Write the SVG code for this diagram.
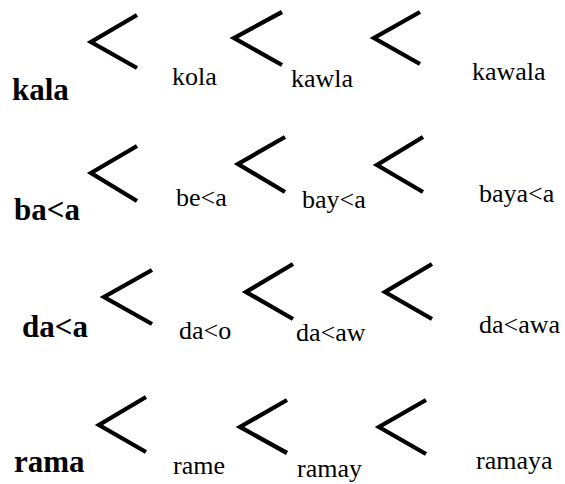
<svg xmlns="http://www.w3.org/2000/svg" width="565" height="484" viewBox="0 0 565 484">
<style>
text{font-family:'Liberation Serif','Times New Roman',Tinos,'DejaVu Serif',serif;fill:#000}
.w{font-size:26px}
.b{font-size:31px;font-weight:bold}
.c{fill:none;stroke:#000;stroke-width:4.3;stroke-linecap:butt;stroke-linejoin:miter}
</style>
<rect width="565" height="484" fill="#fff"/>
<g id="row1" font-family="Liberation Serif, serif">
<text class="b" x="12" y="100">kala</text>
<text class="w" x="172" y="85">kola</text>
<text class="w" x="291" y="87">kawla</text>
<text class="w" x="472" y="80">kawala</text>
</g>
<g id="row2" font-family="Liberation Serif, serif">
<text class="b" x="14" y="220">ba&lt;a</text>
<text class="w" x="176" y="206">be&lt;a</text>
<text class="w" x="302" y="208">bay&lt;a</text>
<text class="w" x="479" y="202">baya&lt;a</text>
</g>
<g id="row3" font-family="Liberation Serif, serif">
<text class="b" x="22" y="337">da&lt;a</text>
<text class="w" x="179" y="339">da&lt;o</text>
<text class="w" x="296" y="341">da&lt;aw</text>
<text class="w" x="479" y="333">da&lt;awa</text>
</g>
<g id="row4" font-family="Liberation Serif, serif">
<text class="b" x="14" y="472">rama</text>
<text class="w" x="173" y="474">rame</text>
<text class="w" x="297" y="477">ramay</text>
<text class="w" x="476" y="469">ramaya</text>
</g>
<g id="connectors">
<polyline class="c" points="137,15 91,42 137,68"/>
<polyline class="c" points="282,12 234,38 282,65"/>
<polyline class="c" points="420,12 374,38 420,64"/>
<polyline class="c" points="137,146 91,173 137,201"/>
<polyline class="c" points="285,137 238,164 285,192"/>
<polyline class="c" points="423,137 377,165 423,192"/>
<polyline class="c" points="152,270 104,297 152,324"/>
<polyline class="c" points="293,264 246,292 293,319"/>
<polyline class="c" points="432,264 385,292 432,319"/>
<polyline class="c" points="146,397 99,425 146,452"/>
<polyline class="c" points="287,400 240,427 287,453"/>
<polyline class="c" points="426,400 379,427 426,454"/>
</g>
</svg>
